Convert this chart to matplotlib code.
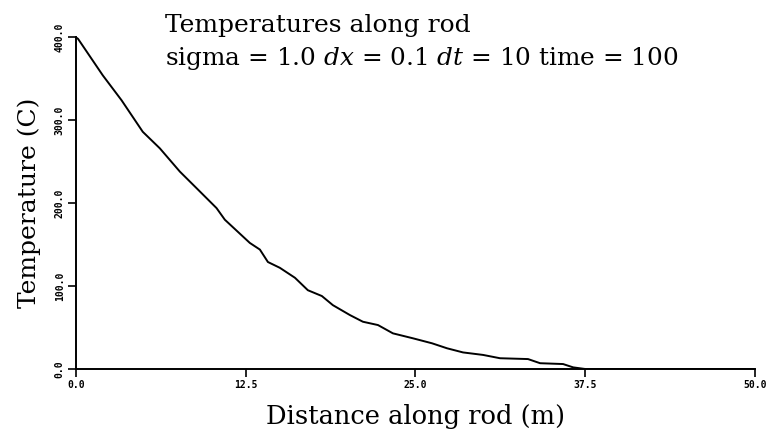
import matplotlib
matplotlib.use("Agg")
import matplotlib.pyplot as plt

plt.rcParams["font.family"] = "DejaVu Serif"
plt.rcParams["mathtext.fontset"] = "dejavuserif"

# distance along rod (m) and temperature (C)
distance = [0.0, 0.17, 1.99, 3.37, 4.93, 6.19, 7.66, 8.89, 10.36, 10.97,
            12.81, 13.55, 14.14, 15.02, 16.13, 17.08, 18.11, 18.92, 20.18,
            21.13, 22.24, 23.34, 24.82, 26.22, 27.32, 28.5, 29.97, 31.22,
            33.28, 34.17, 35.86, 36.6, 37.5, 50.0]
temperature = [400, 398, 354, 324, 286, 266, 238, 218, 194, 180,
               152, 144, 129, 122, 110, 95, 88, 77, 65,
               57, 53, 43, 37, 31, 25, 20, 17, 13,
               12, 7, 6, 2, 0, 0]

x_ticks = [0.0, 12.5, 25.0, 37.5, 50.0]
y_ticks = [0.0, 100.0, 200.0, 300.0, 400.0]

fig = plt.figure(figsize=(7.73, 4.43), dpi=100)
ax = fig.add_axes([0.098, 0.167, 0.879, 0.749])

ax.plot(distance, temperature, color="black", linewidth=1.4)

ax.set_xlim(0, 50)
ax.set_ylim(0, 400)
ax.set_xticks(x_ticks)
ax.set_xticklabels([f"{t:.1f}" for t in x_ticks], fontsize=7,
                   family="DejaVu Sans Mono", fontweight="bold")
ax.set_yticks(y_ticks)
ax.set_yticklabels([f"{t:.1f}" for t in y_ticks], fontsize=7, rotation=90,
                   va="center", family="DejaVu Sans Mono", fontweight="bold")
ax.tick_params(direction="out", length=6, width=1.2, pad=2)

for side in ["top", "right"]:
    ax.spines[side].set_visible(False)
for side in ["left", "bottom"]:
    ax.spines[side].set_linewidth(1.4)

ax.set_xlabel("Distance along rod (m)", fontsize=18.5, labelpad=10)
ax.set_ylabel("Temperature (C)", fontsize=18, labelpad=10)

fig.text(0.2135, 0.928, "Temperatures along rod", fontsize=18,
         va="baseline")
fig.text(0.2135, 0.853, "sigma = 1.0 $dx$ = 0.1 $dt$ = 10 time = 100",
         fontsize=17.8, va="baseline")

fig.savefig("out.png", dpi=100)
